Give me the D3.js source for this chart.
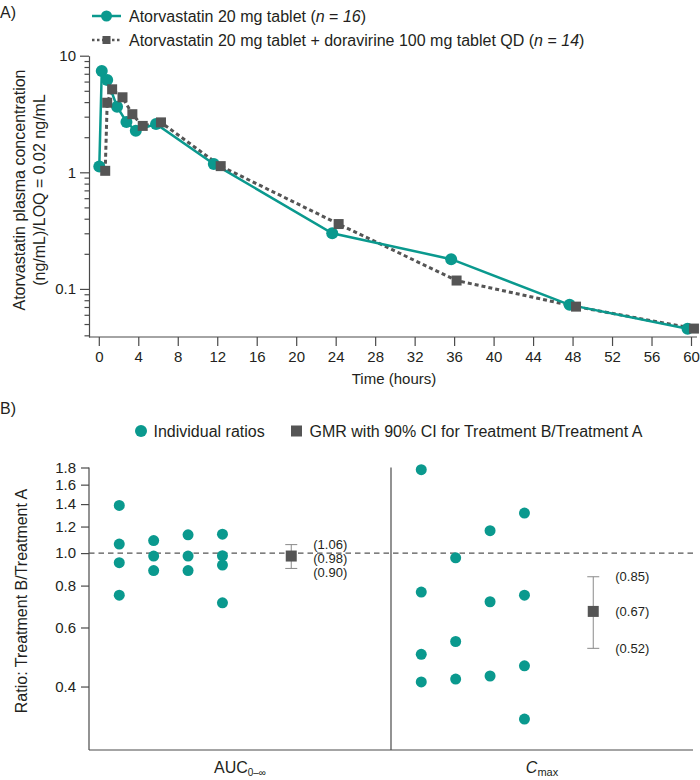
<!DOCTYPE html>
<html><head><meta charset="utf-8">
<script src="https://cdn.jsdelivr.net/npm/d3@7"></script>
<style>
body{margin:0;background:#fff}
text{font-family:"Liberation Sans",Arial,Helvetica,sans-serif;fill:#231f20}
</style>
</head><body>
<svg id="chart" width="700" height="780"></svg>
<script>
// ---------- Panel A data ----------
const seriesNames = ["Atorvastatin 20 mg tablet", "Atorvastatin 20 mg tablet + doravirine 100 mg tablet QD"];
const seriesN = [16, 14];
const timesA = [0.05, 0.3, 0.85, 1.85, 2.8, 3.75, 5.8, 11.65, 23.65, 35.7, 47.7, 59.65];
const concA  = [1.12, 7.4, 6.2, 3.65, 2.7, 2.27, 2.6, 1.18, 0.30, 0.18, 0.073, 0.0455];
const timesB = [0.65, 0.85, 1.35, 2.4, 3.4, 4.45, 6.3, 12.35, 24.3, 36.25, 48.35, 60.3];
const concB  = [1.03, 3.95, 5.15, 4.4, 3.15, 2.5, 2.68, 1.13, 0.36, 0.118, 0.0705, 0.0457];
const xTicksA = [0, 4, 8, 12, 16, 20, 24, 28, 32, 36, 40, 44, 48, 52, 56, 60];
const yMajorA = [0.1, 1, 10];
const yMinorA = [0.04,0.05,0.06,0.07,0.08,0.09,0.2,0.3,0.4,0.5,0.6,0.7,0.8,0.9,2,3,4,5,6,7,8,9];

// ---------- Panel B data ----------
const paramNames = ["AUC", "Cmax"];
const aucRatios  = [[1.387, 1.064, 0.936, 0.749], [1.09, 0.98, 0.887], [1.134, 0.98, 0.887], [1.139, 0.982, 0.921, 0.711]];
const cmaxRatios = [[1.773, 0.765, 0.499, 0.413], [0.968, 0.545, 0.421], [1.166, 0.716, 0.43], [1.316, 0.749, 0.461, 0.32]];
const gmrValues = [0.98, 0.67];
const ciLow     = [0.90, 0.52];
const ciHigh    = [1.06, 0.85];
const yTicksB = [0.4, 0.6, 0.8, 1.0, 1.2, 1.4, 1.6, 1.8];

// ---------- styles ----------
const TEAL = "#0a998e", GREY = "#555555", AXIS = "#4a4a4a";
const svg = d3.select("#chart");

// ================= PANEL A =================
const xA = d3.scaleLinear().domain([0, 60]).range([98.8, 691]);
const yA = d3.scaleLog().domain([0.0387, 10]).range([337, 55.7]);

svg.append("text").attr("x", 0).attr("y", 12).attr("dy", "0.35em").style("font-size", "16px").text("A)");

// y axis
const gYA = svg.append("g").attr("transform", "translate(89,0)");
gYA.call(d3.axisLeft(yA).tickValues(yMajorA).tickSize(9).tickSizeOuter(0).tickPadding(4).tickFormat(d => String(d)));
gYA.append("g").call(d3.axisLeft(yA).tickValues(yMinorA).tickSize(4.5).tickSizeOuter(0).tickFormat(""))
   .select(".domain").remove();
gYA.selectAll("text").style("font-size", "15px").style("font-family", '"Liberation Sans",Arial,sans-serif').attr("fill", "#231f20");
gYA.selectAll("line,path").attr("stroke", AXIS).attr("stroke-width", 1.2);

// x axis
const gXA = svg.append("g").attr("transform", "translate(0,337)");
gXA.call(d3.axisBottom(xA).tickValues(xTicksA).tickSize(9).tickSizeOuter(0).tickPadding(5));
gXA.select(".domain").remove();
gXA.append("line").attr("x1", 89).attr("x2", 697).attr("stroke", AXIS).attr("stroke-width", 1.2);
gXA.selectAll("text").style("font-size", "15px").style("font-family", '"Liberation Sans",Arial,sans-serif').attr("fill", "#231f20");
gXA.selectAll("line").attr("stroke", AXIS).attr("stroke-width", 1.2);

svg.append("text").attr("x", 394).attr("y", 379).attr("dy", "0.35em").attr("text-anchor", "middle")
   .style("font-size", "15px").text("Time (hours)");

const yTitleA = svg.append("text").attr("transform", "translate(19,190) rotate(-90)").attr("text-anchor", "middle").style("font-size", "16px");
yTitleA.append("tspan").attr("x", 0).attr("dy", "0.35em").text("Atorvastatin plasma concentration");
yTitleA.append("tspan").attr("x", 0).attr("dy", "1.3em").text("(ng/mL)/LOQ = 0.02 ng/mL");

// lines
const ptsA = timesA.map((t, i) => [t, concA[i]]);
const ptsB = timesB.map((t, i) => [t, concB[i]]);
const line = d3.line().x(d => xA(d[0])).y(d => yA(d[1]));

svg.append("path").datum(ptsB).attr("d", line).attr("fill", "none").attr("stroke", GREY)
   .attr("stroke-width", 3).attr("stroke-dasharray", "4,3");
svg.append("path").datum(ptsA).attr("d", line).attr("fill", "none").attr("stroke", TEAL).attr("stroke-width", 2.5);

svg.append("g").selectAll("circle").data(ptsA).join("circle")
   .attr("cx", d => xA(d[0])).attr("cy", d => yA(d[1])).attr("r", 6).attr("fill", TEAL);
const sqA = 10;
svg.append("g").selectAll("rect").data(ptsB).join("rect")
   .attr("x", d => xA(d[0]) - sqA / 2).attr("y", d => yA(d[1]) - sqA / 2)
   .attr("width", sqA).attr("height", sqA).attr("fill", GREY);

// legend A
const legA = svg.append("g");
[0, 1].forEach(i => {
  const y = i === 0 ? 16 : 40;
  const g = legA.append("g").attr("transform", `translate(0,${y})`);
  if (i === 0) {
    g.append("line").attr("x1", 92).attr("x2", 121).attr("stroke", TEAL).attr("stroke-width", 2.5);
    g.append("circle").attr("cx", 106.5).attr("r", 5.5).attr("fill", TEAL);
  } else {
    g.append("line").attr("x1", 92).attr("x2", 121).attr("stroke", GREY).attr("stroke-width", 2.5).attr("stroke-dasharray", "2.5,2.5");
    g.append("rect").attr("x", 102.5).attr("y", -4).attr("width", 8).attr("height", 8).attr("fill", GREY);
  }
  const t = g.append("text").attr("x", 129).attr("dy", "0.35em").style("font-size", "16px");
  t.append("tspan").text(seriesNames[i] + " (");
  t.append("tspan").style("font-style", "italic").text("n");
  t.append("tspan").text(" = ");
  t.append("tspan").style("font-style", "italic").text(seriesN[i]);
  t.append("tspan").text(")");
});

// ================= PANEL B =================
svg.append("text").attr("x", 0).attr("y", 408).attr("dy", "0.35em").style("font-size", "16px").text("B)");

const yB = d3.scaleLog().domain([0.2587, 1.8]).range([750, 467.5]);
const panelB = d3.scaleBand().domain(paramNames).range([89, 693]);
const colX = d3.scaleLinear().domain([-0.88, 7.9]).range([0, panelB.bandwidth()]);

// legend B
const legB = svg.append("g").attr("transform", "translate(0,431)");
legB.append("circle").attr("cx", 141).attr("r", 6).attr("fill", TEAL);
legB.append("text").attr("x", 153.5).attr("dy", "0.35em").style("font-size", "16px").text("Individual ratios");
legB.append("rect").attr("x", 291).attr("y", -5.5).attr("width", 11).attr("height", 11).attr("fill", GREY);
legB.append("text").attr("x", 309.5).attr("dy", "0.35em").style("font-size", "16px").text("GMR with 90% CI for Treatment B/Treatment A");

// y axis B
const gYB = svg.append("g").attr("transform", "translate(89,0)");
gYB.call(d3.axisLeft(yB).tickValues(yTicksB).tickSize(8).tickSizeOuter(0).tickPadding(5).tickFormat(d3.format(".1f")));
gYB.select(".domain").attr("d", `M0,${yB(1.8)}V750`);
gYB.selectAll("text").style("font-size", "15px").style("font-family", '"Liberation Sans",Arial,sans-serif').attr("fill", "#231f20");
gYB.selectAll("line,path").attr("stroke", AXIS).attr("stroke-width", 1.2);

// x axis line and divider
svg.append("line").attr("x1", 89).attr("x2", 693).attr("y1", 750).attr("y2", 750).attr("stroke", AXIS).attr("stroke-width", 1.2);
svg.append("line").attr("x1", panelB("Cmax")).attr("x2", panelB("Cmax")).attr("y1", yB(1.8)).attr("y2", 750)
   .attr("stroke", AXIS).attr("stroke-width", 1.2);

// reference line
svg.append("line").attr("x1", 89).attr("x2", 693).attr("y1", yB(1)).attr("y2", yB(1))
   .attr("stroke", GREY).attr("stroke-width", 1.1).attr("stroke-dasharray", "5.5,4");

// x labels
const xl1 = svg.append("text").attr("x", panelB("AUC") + panelB.bandwidth() / 2).attr("y", 767).attr("dy", "0.35em")
   .attr("text-anchor", "middle").style("font-size", "16px");
xl1.append("tspan").text("AUC");
xl1.append("tspan").attr("dy", "3").style("font-size", "10px").text("0\u2013\u221e");
const xl2 = svg.append("text").attr("x", panelB("Cmax") + panelB.bandwidth() / 2).attr("y", 767).attr("dy", "0.35em")
   .attr("text-anchor", "middle").style("font-size", "16px");
xl2.append("tspan").style("font-style", "italic").text("C");
xl2.append("tspan").attr("dy", "3").style("font-size", "11px").text("max");

// y title B
svg.append("text").attr("transform", "translate(21,601) rotate(-90)").attr("text-anchor", "middle")
   .attr("dy", "0.35em").style("font-size", "16px").text("Ratio: Treatment B/Treatment A");

// points
[aucRatios, cmaxRatios].forEach((cols, p) => {
  const x0 = panelB(paramNames[p]);
  const pts = [];
  cols.forEach((vals, ci) => vals.forEach(v => pts.push([ci, v])));
  svg.append("g").selectAll("circle").data(pts).join("circle")
     .attr("cx", d => x0 + colX(d[0])).attr("cy", d => yB(d[1])).attr("r", 5.5).attr("fill", TEAL);

  const gx = x0 + colX(5);
  const g = svg.append("g");
  g.append("line").attr("x1", gx).attr("x2", gx).attr("y1", yB(ciHigh[p])).attr("y2", yB(ciLow[p])).attr("stroke", "#8a8a8a").attr("stroke-width", 1);
  [ciHigh[p], ciLow[p]].forEach(v => g.append("line").attr("x1", gx - 6).attr("x2", gx + 6).attr("y1", yB(v)).attr("y2", yB(v))
     .attr("stroke", "#8a8a8a").attr("stroke-width", 1));
  g.append("rect").attr("x", gx - 5.5).attr("y", yB(gmrValues[p]) - 5.5).attr("width", 11).attr("height", 11).attr("fill", GREY);

  // labels with simple collision avoidance
  const gap = 14;
  const yTop = yB(ciHigh[p]);
  const yMid = Math.max(yB(gmrValues[p]), yTop + gap);
  const yLow = Math.max(yB(ciLow[p]), yMid + gap);
  const fmt = d3.format(".2f");
  [[ciHigh[p], yTop], [gmrValues[p], yMid], [ciLow[p], yLow]].forEach(([v, y]) => {
    g.append("text").attr("x", gx + 22).attr("y", y).attr("dy", "0.35em").style("font-size", "13px").text(`(${fmt(v)})`);
  });
});
</script>
</body></html>
